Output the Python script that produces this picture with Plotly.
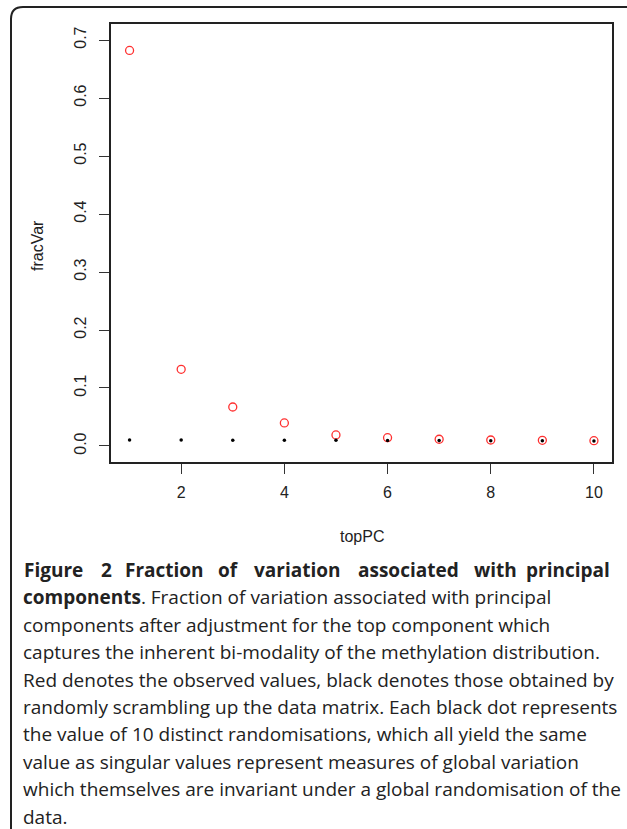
import plotly.graph_objects as go

# ---- data ----
top_pc = [1, 2, 3, 4, 5, 6, 7, 8, 9, 10]
frac_var_observed = [0.682, 0.1322, 0.0672, 0.0397, 0.0190, 0.0143, 0.0116, 0.0103, 0.0098, 0.0091]
frac_var_random = [0.0103, 0.0102, 0.0101, 0.0100, 0.0098, 0.0096, 0.0093, 0.0091, 0.0089, 0.0087]
x_ticks = [2, 4, 6, 8, 10]
y_ticks = [0.0, 0.1, 0.2, 0.3, 0.4, 0.5, 0.6, 0.7]
y_tick_labels = ["0.0", "0.1", "0.2", "0.3", "0.4", "0.5", "0.6", "0.7"]

caption_bold_words = ["Figure", "2", "Fraction", "of", "variation", "associated", "with", "principal"]
caption_lines = [
    "<b>components</b>. Fraction of variation associated with principal",
    "components after adjustment for the top component which",
    "captures the inherent bi-modality of the methylation distribution.",
    "Red denotes the observed values, black denotes those obtained by",
    "randomly scrambling up the data matrix. Each black dot represents",
    "the value of 10 distinct randomisations, which all yield the same",
    "value as singular values represent measures of global variation",
    "which themselves are invariant under a global randomisation of the",
    "data.",
]

W, H = 627, 829
L, R, T, B = 111, 612, 24, 462  # plot area in pixels


def px(x):
    return (x - L) / (R - L)


def py(y):
    return (B - y) / (B - T)


fig = go.Figure()
fig.add_trace(go.Scatter(
    x=top_pc, y=frac_var_observed, mode="markers",
    marker=dict(symbol="circle-open", size=8, color="#ff3030", line=dict(width=1.3, color="#ff3030")),
    showlegend=False, hoverinfo="skip"))
fig.add_trace(go.Scatter(
    x=top_pc, y=frac_var_random, mode="markers",
    marker=dict(symbol="circle", size=3.5, color="black"),
    showlegend=False, hoverinfo="skip"))

axis_font = dict(family="Liberation Sans, Arial", size=16, color="#222")
fig.update_xaxes(range=[0.64, 10.35], tickvals=x_ticks, ticks="outside", ticklen=10,
                 tickwidth=1.3, tickcolor="#333", showline=True, linecolor="#222", linewidth=1.5,
                 mirror=True, showgrid=False, zeroline=False, tickfont=axis_font,
                 ticklabelstandoff=5)
fig.update_yaxes(range=[-0.0276, 0.7276], tickvals=y_ticks, ticktext=y_tick_labels, ticks="outside",
                 ticklen=10, tickwidth=1.3, tickcolor="#333", showline=True, linecolor="#222",
                 linewidth=1.5, mirror=True, showgrid=False, zeroline=False, tickfont=axis_font,
                 tickangle=-90, ticklabelstandoff=7)

ann = []
ann.append(dict(text="fracVar", x=px(37), y=py(246), xref="paper", yref="paper", showarrow=False,
                textangle=-90, font=axis_font, xanchor="center", yanchor="middle"))
ann.append(dict(text="topPC", x=px(361.5), y=py(536), xref="paper", yref="paper", showarrow=False,
                font=axis_font, xanchor="center", yanchor="middle"))

cap_font = dict(family="Open Sans", size=19, color="#222")
line_y0 = 570
line_dy = 27.4
# justified bold first line: word start positions
word_x = [22, 99, 123, 216, 252, 356, 472, 612]
for i, w in enumerate(caption_bold_words):
    last = i == len(caption_bold_words) - 1
    ann.append(dict(text="<b>" + w + "</b>", x=px(word_x[i]), y=py(line_y0), xref="paper", yref="paper",
                    showarrow=False, font=cap_font, xanchor="right" if last else "left",
                    yanchor="middle"))
for j, line in enumerate(caption_lines):
    ann.append(dict(text=line, x=px(21), y=py(line_y0 + (j + 1) * line_dy), xref="paper", yref="paper",
                    showarrow=False, font=cap_font, xanchor="left", yanchor="middle"))

# rounded outer frame
x0, y0, x1, y1, r = 11, 7, 640, 845, 12
path = (f"M {px(x0)},{py(y1)} L {px(x0)},{py(y0 + r)} Q {px(x0)},{py(y0)} {px(x0 + r)},{py(y0)} "
        f"L {px(x1)},{py(y0)}")
fig.add_shape(type="path", path=path, xref="paper", yref="paper",
              line=dict(color="#222", width=2))

fig.update_layout(width=W, height=H, margin=dict(l=L, r=W - R, t=T, b=H - B),
                  paper_bgcolor="white", plot_bgcolor="white", annotations=ann)
fig.write_html("out.html", config={"displayModeBar": False},
               post_script="document.body.style.margin='0';")
